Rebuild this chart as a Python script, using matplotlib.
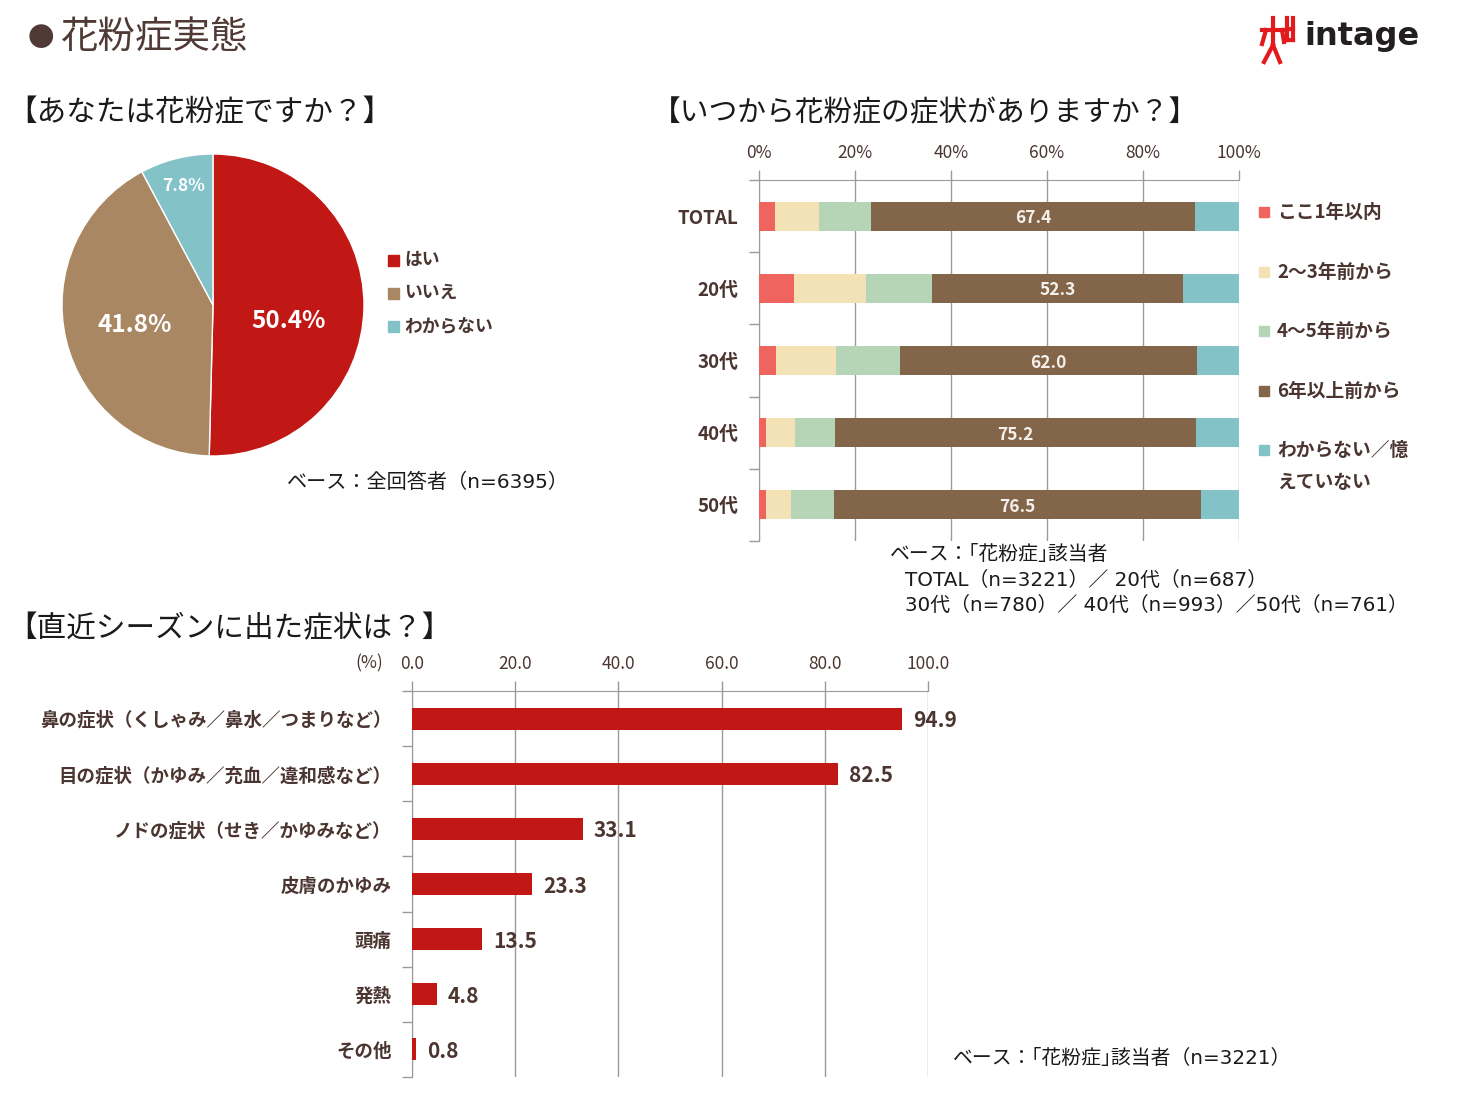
import numpy as np
import matplotlib
matplotlib.use("Agg")
from matplotlib import pyplot as plt
from matplotlib.patches import Rectangle
from matplotlib.lines import Line2D

plt.rcParams['font.family'] = ['Noto Sans CJK JP', 'DejaVu Sans']

# ---- data ----
pie_labels = ['はい', 'いいえ', 'わからない']
pie_values = [50.4, 41.8, 7.8]
pie_colors = ['#c21815', '#a88762', '#83c3c8']

age_groups = ['TOTAL', '20代', '30代', '40代', '50代']
since_labels = ['ここ1年以内', '2～3年前から', '4～5年前から', '6年以上前から', 'わからない／憶\nえていない']
since_within1 = [3.3, 7.2, 3.5, 1.4, 1.4]
since_2to3 = [9.3, 15.0, 12.5, 6.0, 5.2]
since_4to5 = [10.8, 13.8, 13.3, 8.5, 9.0]
since_6plus = [67.4, 52.3, 62.0, 75.2, 76.5]
since_unknown = [9.2, 11.7, 8.7, 8.9, 8.0]
since_colors = ['#f0645f', '#f2e2b5', '#b6d5b6', '#836649', '#83c3c8']

symptoms = ['鼻の症状（くしゃみ／鼻水／つまりなど）', '目の症状（かゆみ／充血／違和感など）',
            'ノドの症状（せき／かゆみなど）', '皮膚のかゆみ', '頭痛', '発熱', 'その他']
symptom_values = [94.9, 82.5, 33.1, 23.3, 13.5, 4.8, 0.8]

TXT = '#4a3530'
GRID = '#9a9a9a'
MIX = ['DejaVu Sans', 'Noto Sans CJK JP']   # wider latin digits, CJK fallback
W, H = 1471, 1099

fig = plt.figure(figsize=(W / 100, H / 100), dpi=100)
fig.patch.set_facecolor('white')

def fx(px):
    return px / W

def fy(py):
    return 1 - py / H

# ---- headings ----
fig.text(fx(28), fy(39), '●', fontsize=19, color='#4f3a35', va='center')
fig.text(fx(61), fy(37), '花粉症実態', fontsize=27, color='#4f3a35', va='center')
fig.text(fx(7), fy(113), '【あなたは花粉症ですか？】', fontsize=21.3, color='#1a1a1a', va='center')
fig.text(fx(652), fy(113), '【いつから花粉症の症状がありますか？】', fontsize=20.7, color='#1a1a1a', va='center')
fig.text(fx(7), fy(629), '【直近シーズンに出た症状は？】', fontsize=21.3, color='#1a1a1a', va='center')

# ---- logo ----
fig.text(fx(1304), fy(36), 'intage', fontsize=23, fontweight='bold', color='#231f20',
         va='center', family=['DejaVu Sans'])
fig.text(fx(1409), fy(46), '®', fontsize=4, color='#231f20', va='center')
logo = [((1262, 1285), (30, 30)), ((1273, 1273), (18, 45)), ((1273, 1264), (45, 62)),
        ((1273, 1280), (45, 62)), ((1266, 1262), (30, 44)), ((1282, 1284), (30, 42)),
        ((1287, 1287), (18, 40)), ((1293, 1293), (18, 40)), ((1287, 1293), (40, 40)),
        ((1287, 1293), (29, 29))]
for xs, ys in logo:
    fig.add_artist(Line2D([fx(x) for x in xs], [fy(y) for y in ys], color='#e31a1c', lw=3))

# ---- pie ----
ax_pie = fig.add_axes([fx(62), fy(456), fx(302), 302 / H])
wedges, _ = ax_pie.pie(pie_values, colors=pie_colors, startangle=90, counterclock=False,
                       radius=1, wedgeprops=dict(linewidth=1, edgecolor='white'))
label_r = [0.50, 0.53, 0.81]
label_dy = [-0.10, -0.01, 0.0]
label_fs = [17.5, 17.5, 12.5]
for w, v, r, d, s in zip(wedges, pie_values, label_r, label_dy, label_fs):
    ang = np.deg2rad((w.theta1 + w.theta2) / 2)
    ax_pie.text(r * np.cos(ang), r * np.sin(ang) + d, f'{v:.1f}%', ha='center', va='center',
                color='white', fontsize=s, fontweight='bold')
ax_pie.set_xlim(-1, 1)
ax_pie.set_ylim(-1, 1)
ax_pie.axis('off')

for i, (lab, col) in enumerate(zip(pie_labels, pie_colors)):
    yy = 260 + 33 * i
    fig.add_artist(Rectangle((fx(388), fy(yy + 6)), fx(11), 11 / H, color=col))
    fig.text(fx(404), fy(yy), lab, fontsize=12.8, fontweight='bold', color=TXT, va='center')

fig.text(fx(287), fy(482), 'ベース：全回答者（n=6395）', fontsize=14.5, color='#1a1a1a',
         va='center', family=MIX)

# ---- stacked bars ----
ax_s = fig.add_axes([fx(759), fy(541), fx(480), 361 / H])
series = [since_within1, since_2to3, since_4to5, since_6plus, since_unknown]
ypos = np.arange(len(age_groups))
left = np.zeros(len(age_groups))
for vals, col in zip(series, since_colors):
    ax_s.barh(ypos, vals, left=left, height=0.4, color=col, zorder=3)
    left += np.array(vals)
brown_left = np.array(since_within1) + np.array(since_2to3) + np.array(since_4to5)
for y, bl, v in zip(ypos, brown_left, since_6plus):
    ax_s.text(bl + v / 2, y + 0.03, f'{v:.1f}', ha='center', va='center', color='#f5f0ea',
              fontsize=12.5, fontweight='bold', zorder=4)
ax_s.set_xlim(0, 100)
ax_s.set_ylim(len(age_groups) - 0.5, -0.5)
ax_s.xaxis.tick_top()
ax_s.set_xticks(np.arange(0, 101, 20))
ax_s.set_xticklabels([f'{t}%' for t in range(0, 101, 20)])
ax_s.tick_params(axis='x', length=7, width=1, color=GRID, pad=6, labelsize=12.5, labelcolor=TXT)
ax_s.set_yticks(ypos)
ax_s.set_yticklabels(age_groups, fontweight='bold', fontsize=13.5, color=TXT)
ax_s.set_yticks(np.arange(-0.5, len(age_groups)), minor=True)
ax_s.tick_params(axis='y', which='major', length=0, pad=15)
ax_s.tick_params(axis='y', which='minor', length=7, width=1, color=GRID)
ax_s.grid(axis='x', color=GRID, lw=1, zorder=0)
for sp in ['bottom', 'right']:
    ax_s.spines[sp].set_visible(False)
for sp in ['top', 'left']:
    ax_s.spines[sp].set_color(GRID)

for i, (lab, col) in enumerate(zip(since_labels, since_colors)):
    yy = 212 + 59.5 * i
    fig.add_artist(Rectangle((fx(1259), fy(yy + 5)), fx(10), 10 / H, color=col))
    fig.text(fx(1277), fy(yy - 9), lab, fontsize=13.5, fontweight='bold', color=TXT,
             va='top', linespacing=1.9)

fig.text(fx(890), fy(555), 'ベース：｢花粉症｣該当者', fontsize=14.3, color='#1a1a1a', va='center')
fig.text(fx(905), fy(580), 'TOTAL（n=3221）／ 20代（n=687）', fontsize=14.3, color='#1a1a1a',
         va='center', family=MIX)
fig.text(fx(905), fy(605), '30代（n=780）／ 40代（n=993）／50代（n=761）', fontsize=14.3,
         color='#1a1a1a', va='center', family=MIX)

# ---- symptom bars ----
ax_b = fig.add_axes([fx(412), fy(1077), fx(516), 386 / H])
yb = np.arange(len(symptoms))
ax_b.barh(yb, symptom_values, height=0.4, color='#c21815', zorder=3)
for y, v in zip(yb, symptom_values):
    ax_b.annotate(f'{v:.1f}', (v, y), xytext=(8, -1.5), textcoords='offset points',
                  ha='left', va='center', fontsize=15, fontweight='bold', color=TXT, zorder=4)
ax_b.set_xlim(0, 100)
ax_b.set_ylim(len(symptoms) - 0.5, -0.5)
ax_b.xaxis.tick_top()
ax_b.set_xticks(np.arange(0, 101, 20))
ax_b.set_xticklabels([f'{t:.1f}' for t in range(0, 101, 20)])
ax_b.tick_params(axis='x', length=7, width=1, color=GRID, pad=6, labelsize=12.5, labelcolor=TXT)
ax_b.set_yticks(yb)
ax_b.set_yticklabels(symptoms, fontweight='bold', fontsize=13.3, color=TXT)
ax_b.set_yticks(np.arange(-0.5, len(symptoms)), minor=True)
ax_b.tick_params(axis='y', which='major', length=0, pad=14.5)
ax_b.tick_params(axis='y', which='minor', length=7, width=1, color=GRID)
ax_b.grid(axis='x', color=GRID, lw=1, zorder=0)
for sp in ['bottom', 'right']:
    ax_b.spines[sp].set_visible(False)
for sp in ['top', 'left']:
    ax_b.spines[sp].set_color(GRID)
fig.text(fx(355), fy(663), '(%)', fontsize=12.5, color=TXT, va='center')

fig.text(fx(953), fy(1058), 'ベース：｢花粉症｣該当者（n=3221）', fontsize=14.3, color='#1a1a1a',
         va='center', family=MIX)

fig.savefig('out.png', dpi=100)
